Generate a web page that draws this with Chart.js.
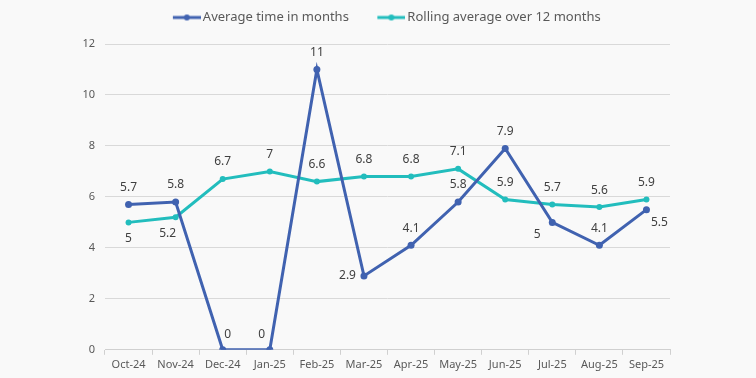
<!DOCTYPE html>
<html>
<head>
<meta charset="utf-8">
<script src="https://cdn.jsdelivr.net/npm/chart.js@4"></script>
<style>
  html, body { margin: 0; padding: 0; background: #f9f9f9; }
  #wrap { width: 756px; height: 378px; }
</style>
</head>
<body>
<div id="wrap"><canvas id="chart" width="756" height="378"></canvas></div>
<script>
const months = ["Oct-24", "Nov-24", "Dec-24", "Jan-25", "Feb-25", "Mar-25", "Apr-25", "May-25", "Jun-25", "Jul-25", "Aug-25", "Sep-25"];
const avgTime = [5.7, 5.8, 0, 0, 11, 2.9, 4.1, 5.8, 7.9, 5, 4.1, 5.5];
const rollingAvg = [5, 5.2, 6.7, 7, 6.6, 6.8, 6.8, 7.1, 5.9, 5.7, 5.6, 5.9];
const yTicks = [0, 2, 4, 6, 8, 10, 12];

// where each value label sits relative to its point
const avgLabelPos = ["above", "above", "aboveRight", "aboveLeft", "above", "left", "above", "above", "above", "belowLeft", "above", "belowRight"];
const rollLabelPos = ["below", "belowLeftNear", "above", "above", "above", "above", "above", "above", "above", "above", "above", "above"];

const BLUE = "#4062b0";
const TEAL = "#22bdbd";
const FONT = "'Noto Sans', 'Open Sans', sans-serif";

// line + dot marker; the image is wider than its legend box so it hugs the text
function legendMarker(color) {
  const c = document.createElement("canvas");
  c.width = 50; c.height = 10;
  const g = c.getContext("2d");
  g.strokeStyle = color;
  g.lineWidth = 3;
  g.beginPath(); g.moveTo(22, 5); g.lineTo(50, 5); g.stroke();
  g.fillStyle = color;
  g.beginPath(); g.arc(36, 5, 3, 0, Math.PI * 2); g.fill();
  return c;
}

// draws the value labels next to the points
const valueLabels = {
  id: "valueLabels",
  afterDatasetsDraw(chart) {
    const ctx = chart.ctx;
    ctx.save();
    ctx.font = "12px " + FONT;
    ctx.fillStyle = "#404040";
    ctx.textBaseline = "middle";
    chart.data.datasets.forEach((ds, i) => {
      const meta = chart.getDatasetMeta(i);
      meta.data.forEach((pt, j) => {
        const txt = String(ds.data[j]);
        const pos = ds.labelPos[j];
        let x = pt.x, y = pt.y;
        ctx.textAlign = "center";
        if (pos === "above") y -= 17;
        else if (pos === "aboveRight") { x += 5; y -= 15; }
        else if (pos === "aboveLeft") { x -= 8; y -= 15; }
        else if (pos === "below") y += 16;
        else if (pos === "belowLeftNear") { x -= 8; y += 16; }
        else if (pos === "left") { x -= 8; ctx.textAlign = "right"; }
        else if (pos === "belowLeft") { x -= 15; y += 12; }
        else if (pos === "belowRight") { x += 13; y += 13; }
        ctx.fillText(txt, x, y);
      });
    });
    ctx.restore();
  }
};

// extra room under the legend so the plot starts lower
const legendSpace = {
  id: "legendSpace",
  beforeInit(chart) {
    const fit = chart.legend.fit;
    chart.legend.fit = function () {
      fit.call(this);
      this.height += 10;
    };
  }
};

new Chart(document.getElementById("chart"), {
  type: "line",
  data: {
    labels: months,
    datasets: [
      {
        label: "Average time in months",
        data: avgTime,
        labelPos: avgLabelPos,
        borderColor: BLUE,
        backgroundColor: BLUE,
        borderWidth: 3,
        pointRadius: 3.5,
        pointBorderWidth: 0,
        pointHoverRadius: 3.5,
        tension: 0
      },
      {
        label: "Rolling average over 12 months",
        data: rollingAvg,
        labelPos: rollLabelPos,
        borderColor: TEAL,
        backgroundColor: TEAL,
        borderWidth: 3,
        pointRadius: 3,
        pointBorderWidth: 0,
        pointHoverRadius: 3,
        tension: 0
      }
    ]
  },
  options: {
    responsive: false,
    animation: false,
    layout: { padding: { left: 0, right: 0, top: 0, bottom: 4 } },
    plugins: {
      tooltip: { enabled: false },
      legend: {
        position: "top",
        labels: {
          font: { family: FONT, size: 13 },
          color: "#595959",
          usePointStyle: true,
          pointStyleWidth: 41,
          boxWidth: 41,
          padding: 11,
          generateLabels(chart) {
            return chart.data.datasets.map((ds, i) => ({
              text: ds.label,
              pointStyle: legendMarker(ds.borderColor),
              fillStyle: ds.borderColor,
              strokeStyle: ds.borderColor,
              lineWidth: 0,
              fontColor: "#595959",
              hidden: false,
              datasetIndex: i
            }));
          }
        }
      }
    },
    scales: {
      x: {
        offset: true,
        grid: {
          display: true,
          offset: true,
          drawOnChartArea: false,
          drawTicks: true,
          tickLength: 5,
          color: "#d0d0d0"
        },
        border: { color: "#d0d0d0" },
        ticks: {
          font: { family: FONT, size: 11 },
          color: "#595959",
          padding: 3,
          maxRotation: 0
        }
      },
      y: {
        min: 0,
        max: 12,
        afterFit(scale) { scale.width = 105; },
        afterBuildTicks(scale) { scale.ticks = yTicks.map(v => ({ value: v })); },
        grid: { color: "#d9d9d9", drawTicks: false },
        border: { display: false },
        ticks: {
          font: { family: FONT, size: 11 },
          color: "#595959",
          padding: 10
        }
      },
      // empty right-hand axis that only reserves space
      yRight: {
        position: "right",
        display: true,
        afterFit(scale) { scale.width = 86; },
        grid: { display: false, drawTicks: false },
        border: { display: false },
        ticks: { display: false }
      }
    }
  },
  plugins: [valueLabels, legendSpace]
});
</script>
</body>
</html>
